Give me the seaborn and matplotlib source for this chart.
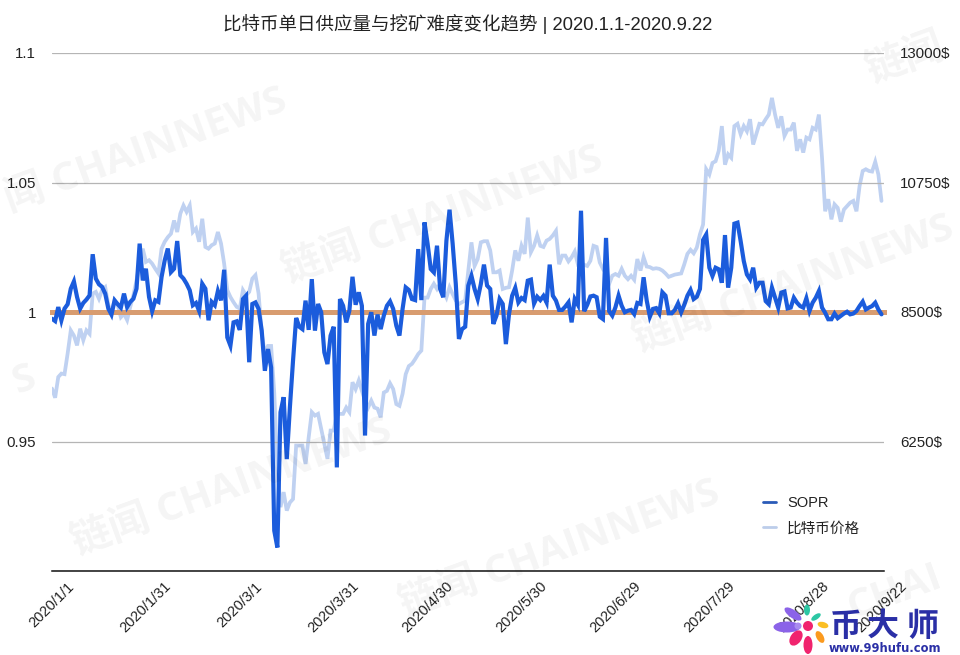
import matplotlib
matplotlib.use("Agg")
import matplotlib.pyplot as plt
from matplotlib.patches import Ellipse
from matplotlib.lines import Line2D
import pandas as pd
import seaborn as sns

TITLE = "比特币单日供应量与挖矿难度变化趋势 | 2020.1.1-2020.9.22"
SOPR_NAME = "SOPR"
PRICE_NAME = "比特币价格"
LEFT_TICKS = [0.9, 0.95, 1, 1.05, 1.1]
LEFT_LABELS = ["", "0.95", "1", "1.05", "1.1"]
RIGHT_TICKS = [4000, 6250, 8500, 10750, 13000]
RIGHT_LABELS = ["", "6250$", "8500$", "10750$", "13000$"]
DATE_TICKS = ["2020-01-01", "2020-01-31", "2020-03-01", "2020-03-31", "2020-04-30",
              "2020-05-30", "2020-06-29", "2020-07-29", "2020-08-28", "2020-09-22"]
DATE_LABELS = ["2020/1/1", "2020/1/31", "2020/3/1", "2020/3/31", "2020/4/30",
               "2020/5/30", "2020/6/29", "2020/7/29", "2020/8/28", "2020/9/22"]

sopr = [
    0.9974, 0.9965, 1.0019, 0.9968, 1.0013, 1.0030, 1.0090, 1.0118, 1.0058, 1.0013,
    1.0035, 1.0048, 1.0064, 1.0223, 1.0129, 1.0107, 1.0097, 1.0071, 1.0013, 0.9990,
    1.0045, 1.0030, 1.0017, 1.0071, 1.0019, 1.0039, 1.0051, 1.0090, 1.0264, 1.0122,
    1.0167, 1.0058, 1.0003, 1.0045, 1.0039, 1.0135, 1.0199, 1.0245, 1.0154, 1.0167,
    1.0274, 1.0142, 1.0129, 1.0109, 1.0084, 1.0026, 1.0035, 1.0004, 1.0109, 1.0090,
    0.9968, 1.0039, 1.0026, 1.0081, 1.0045, 1.0163, 0.9902, 0.9870, 0.9960, 0.9964,
    0.9931, 1.0050, 1.0063, 0.9806, 1.0031, 1.0037, 1.0012, 0.9928, 0.9773, 0.9857,
    0.9786, 0.9156, 0.9091, 0.9613, 0.9671, 0.9432, 0.9632, 0.9812, 0.9977, 0.9943,
    0.9934, 1.0044, 0.9931, 1.0127, 0.9928, 1.0031, 0.9999, 0.9844, 0.9799, 0.9909,
    0.9943, 0.9400, 1.0050, 1.0024, 0.9960, 1.0005, 1.0136, 1.0028, 1.0076, 1.0024,
    0.9523, 0.9954, 0.9999, 0.9909, 0.9990, 0.9934, 0.9986, 1.0024, 1.0041, 1.0012,
    0.9947, 0.9909, 1.0012, 1.0095, 1.0085, 1.0050, 1.0046, 1.0243, 1.0046, 1.0346,
    1.0263, 1.0166, 1.0153, 1.0256, 1.0089, 1.0057, 1.0275, 1.0395, 1.0263, 1.0108,
    0.9896, 0.9934, 0.9943, 1.0102, 1.0140, 1.0089, 1.0050, 1.0108, 1.0183, 1.0102,
    1.0089, 0.9954, 0.9986, 1.0050, 1.0031, 0.9876, 0.9992, 1.0063, 1.0093, 1.0037,
    1.0054, 1.0046, 1.0121, 1.0125, 1.0033, 1.0059, 1.0046, 1.0062, 1.0037, 1.0183,
    1.0063, 1.0044, 1.0008, 1.0008, 1.0021, 1.0037, 0.9960, 1.0050, 1.0028, 1.0391,
    1.0003, 1.0028, 1.0060, 1.0063, 1.0057, 0.9982, 0.9973, 1.0286, 1.0003, 0.9986,
    1.0018, 1.0063, 1.0024, 0.9999, 1.0005, 1.0008, 0.9992, 1.0035, 1.0031, 1.0134,
    1.0044, 0.9982, 1.0012, 1.0015, 0.9995, 1.0076, 1.0063, 0.9995, 0.9995, 1.0008,
    1.0033, 0.9999, 1.0028, 1.0063, 1.0085, 1.0050, 1.0059, 1.0089, 1.0278, 1.0299,
    1.0171, 1.0139, 1.0171, 1.0165, 1.0113, 1.0297, 1.0094, 1.0171, 1.0341, 1.0345,
    1.0274, 1.0197, 1.0145, 1.0126, 1.0171, 1.0094, 1.0113, 1.0113, 1.0042, 1.0030,
    1.0094, 1.0055, 1.0017, 1.0075, 1.0079, 1.0014, 1.0017, 1.0055, 1.0036, 1.0023,
    1.0017, 1.0053, 1.0004, 1.0036, 1.0055, 1.0081, 1.0017, 0.9997, 0.9972, 0.9972,
    0.9994, 0.9976, 0.9985, 0.9994, 1.0001, 0.9991, 0.9994, 1.0004, 1.0023, 1.0040,
    1.0010, 1.0017, 1.0023, 1.0036, 1.0010, 0.9991,
]

price = [
    7170, 7010, 7370, 7430, 7420, 7780, 8180, 8090, 7920, 8210,
    8010, 8180, 8120, 8820, 8850, 8730, 8880, 8930, 8620, 8500,
    8700, 8620, 8410, 8470, 8360, 8590, 8790, 9050, 9340, 9600,
    9370, 9400, 9340, 9250, 9170, 9600, 9720, 9800, 9860, 10090,
    9890, 10210, 10350, 10240, 10350, 9890, 9950, 9720, 10120, 9630,
    9600, 9660, 9690, 9890, 9690, 9340, 8880, 8760, 8670, 8590,
    8560, 8880, 8790, 8850, 9080, 9140, 8820, 8120, 7780, 7910,
    7910, 7100, 5800, 5110, 5370, 5050, 5190, 5250, 6180, 6180,
    6180, 5860, 6320, 6760, 6700, 6730, 6470, 6210, 5950, 6440,
    6440, 6730, 6730, 6730, 6840, 6760, 7280, 7160, 7310, 7130,
    6960, 6840, 6960, 6840, 6820, 6670, 7100, 7130, 7260, 7160,
    6900, 6870, 7080, 7420, 7560, 7600, 7680, 7770, 7830, 8750,
    8750, 8900, 8990, 8900, 8990, 8860, 8750, 8930, 8810, 8700,
    8640, 8670, 8700, 9220, 9710, 9300, 9420, 9710, 9730, 9730,
    9570, 9190, 9190, 9220, 8900, 8920, 8930, 9220, 9570, 9390,
    9650, 9510, 10140, 9540, 9650, 9830, 9650, 9630, 9740, 9770,
    9830, 9910, 9330, 9480, 9480, 9380, 9450, 9550, 9330, 9360,
    9320, 9300, 9390, 9650, 9630, 9360, 9250, 9300, 8990, 9130,
    9160, 9130, 9250, 9130, 9070, 9130, 9060, 9420, 9220, 9450,
    9290, 9280, 9250, 9260, 9250, 9220, 9170, 9110, 9130, 9150,
    9160, 9170, 9330, 9510, 9580, 9520, 9620, 9850, 10020, 10980,
    10890, 11090, 11120, 11300, 11730, 11060, 11240, 11180, 11730, 11770,
    11590, 11730, 11640, 11850, 11410, 11590, 11770, 11760, 11850, 11930,
    12220, 11930, 11700, 11900, 11560, 11670, 11670, 11790, 11300, 11500,
    11270, 11530, 11500, 11700, 11670, 11930, 11180, 10250, 10460, 10110,
    10370, 10310, 10070, 10280, 10340, 10400, 10430, 10250, 10690, 10950,
    10980, 10950, 10940, 11110, 10890, 10430,
]

dates = pd.date_range("2020-01-01", periods=len(sopr), freq="D")
df = pd.DataFrame({"date": dates, "sopr": sopr, "price": price})

sns.set_theme(style="white")
plt.rcParams["font.family"] = ["Liberation Sans", "Noto Sans CJK SC", "DejaVu Sans"]

W, H = 960, 655
fig = plt.figure(figsize=(W / 100, H / 100), dpi=100, facecolor="white")
ax = fig.add_axes([52 / W, 1 - 571 / H, (884 - 52) / W, (571 - 53) / H])
ax2 = ax.twinx()

DARK = "#1B5CDC"
LIGHT = "#BFD1F1"
ORANGE = "#D89C70"

sns.lineplot(data=df, x="date", y="price", ax=ax2, color=LIGHT, linewidth=2.7, errorbar=None)
sns.lineplot(data=df, x="date", y="sopr", ax=ax, color=DARK, linewidth=3.0, errorbar=None)
for line in ax.lines + ax2.lines:
    line.set_solid_joinstyle("miter")
ax.axhline(1, color=ORANGE, linewidth=3.6, zorder=1.5, clip_on=False, solid_capstyle="projecting")

ax.set_zorder(ax2.get_zorder() + 1)
ax.patch.set_visible(False)

ax.set_xlim(pd.Timestamp("2020-01-01"), pd.Timestamp("2020-01-01") + pd.Timedelta(days=265.8))
ax.set_ylim(0.9, 1.1)
ax2.set_ylim(4000, 13000)

ax.set_yticks(LEFT_TICKS)
ax.set_yticklabels(LEFT_LABELS, fontsize=10.8, color="#222222")
ax2.set_yticks(RIGHT_TICKS)
ax2.set_yticklabels(RIGHT_LABELS, fontsize=10.8, color="#222222")
ax.tick_params(axis="y", length=0, pad=11.5)
ax2.tick_params(axis="y", length=0, pad=11.5)
ax.set_xticks(pd.to_datetime(DATE_TICKS))
ax.set_xticklabels(DATE_LABELS, rotation=45, ha="center", fontsize=10.5, color="#222222")
ax.tick_params(axis="x", length=0, pad=6)

ax.set_xlabel("")
ax.set_ylabel("")
ax2.set_xlabel("")
ax2.set_ylabel("")
ax.grid(False)
ax2.grid(False)
ax.yaxis.grid(True, color="#B5B5B5", linewidth=0.9, zorder=0)
ax.set_axisbelow(True)

for a in (ax, ax2):
    for side in ("top", "left", "right"):
        a.spines[side].set_visible(False)
ax2.spines["bottom"].set_visible(False)
ax.spines["bottom"].set_color("#111111")
ax.spines["bottom"].set_linewidth(1.1)

fig.text(468 / W, 1 - 24 / H, TITLE, ha="center", va="center", fontsize=13.3, color="#222222")

handles = [Line2D([], [], color="#2A5BB8", linewidth=2.0), Line2D([], [], color="#BCCDEA", linewidth=2.0)]
fig.legend(handles, [SOPR_NAME, PRICE_NAME], loc="upper left",
           bbox_to_anchor=(763 / W, 1 - 496 / H), bbox_transform=fig.transFigure,
           frameon=False, fontsize=10.5, borderpad=0, borderaxespad=0,
           handlelength=0.9, handletextpad=0.75, labelspacing=0.78, labelcolor="#222222")

# full-figure overlay for the watermark and the corner logo, in pixel units
ov = fig.add_axes([0, 0, 1, 1], zorder=10)
ov.set_xlim(0, W)
ov.set_ylim(H, 0)
ov.axis("off")
ov.patch.set_visible(False)

MARK = "链闻 CHAINNEWS"
wm = dict(rotation=20, ha="center", va="center", fontsize=29, fontweight="bold", color="#000000", alpha=0.045,
          family=["Open Sans", "Noto Sans CJK SC"])
for cx, cy in [(443, 216), (794, 285), (232, 488), (560, 550)]:
    ov.text(cx, cy, MARK, **wm)
ov.text(146, 150, "闻 CHAINNEWS", **wm)
ov.text(24, 380, "S", **wm)
ov.text(905, 60, "链闻", **wm)
ov.text(895, 592, "CHAI", **wm)

petals = [
    (787, 627, 27, 11, 0, "#8B63E8"), (793, 614, 20, 8, 35, "#8B63E8"), (807, 610, 6, 11, 0, "#2CC7A4"),
    (816, 617, 11, 5, -35, "#2CC7A4"), (823, 625, 11, 6, 15, "#FBBF24"), (820, 637, 7, 13, -30, "#FB9A1E"),
    (808, 645, 9, 18, 0, "#F0246E"), (796, 638, 11, 17, 35, "#F0246E"), (808, 626, 10, 10, 0, "#F0246E"),
    (798, 626, 7, 7, 0, "#A98BEF"),
]
for x, y, w, h, ang, col in petals:
    ov.add_patch(Ellipse((x, y), w, h, angle=ang, color=col, lw=0))

NAVY = "#2A2FA6"
for ch, x in zip("币大师", (846, 883, 923)):
    ov.text(x, 627, ch, ha="center", va="center", fontsize=23, fontweight="bold", color=NAVY,
            family=["Noto Sans CJK SC"])
ov.text(885, 648, "www.99hufu.com", ha="center", va="center", fontsize=8.3, fontweight="bold",
        color=NAVY, family=["DejaVu Sans"])

fig.savefig("out.png", dpi=100)
